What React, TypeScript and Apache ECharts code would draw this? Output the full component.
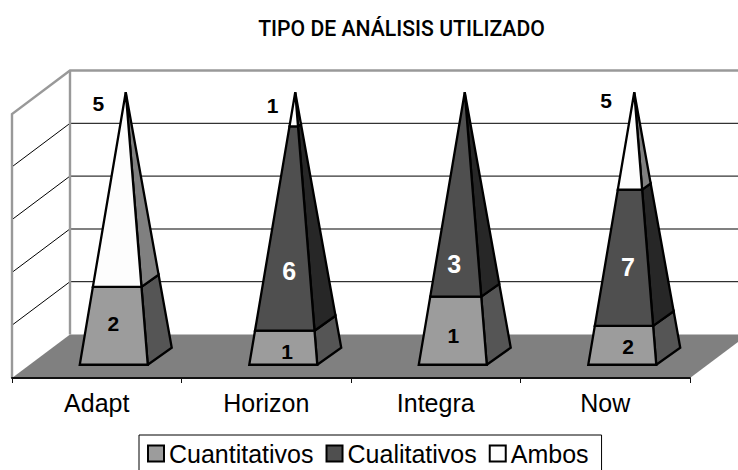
import React, { useEffect, useRef } from "react";
import * as echarts from "echarts";

const categories = ["Adapt", "Horizon", "Integra", "Now"];
const cuantitativos = [2, 1, 1, 2];
const cualitativos = [0, 6, 3, 7];
const ambos = [5, 1, 0, 5];
const gridTicks = [20, 40, 60, 80];
const titleText = "TIPO DE ANÁLISIS UTILIZADO";

const stacks = [cuantitativos, cualitativos, ambos];
const names = ["Cuantitativos", "Cualitativos", "Ambos"];
const frontColors = ["#9c9c9c", "#4f4f4f", "#fdfdfd"];
const sideColors = ["#555555", "#272727", "#808080"];
const labelColors = ["#000000", "#ffffff", "#000000"];
const labelSizes = [21, 25, 21];

// Pixel nudges of each label from the middle of its segment (per series, per category)
const labelNudges = [
  [[-2, -2], [3, 4], [-1, 5], [5, 1.5]],
  [[0, 0], [0, 42], [-6, 70], [1, 9]],
  [[-23, -86], [-22, -4], [0, 0], [-26, -40]],
];

const DEPTH_X = 58;
const DEPTH_Y = -43.5;
const FONT = '"Liberation Sans", Arial, sans-serif';

function App() {
  const ref = useRef<HTMLDivElement>(null);
  useEffect(() => {
    document.body.style.margin = "0";
    const chart = echarts.init(ref.current!, null, { renderer: "svg" });

    const wallSeries = {
      type: "custom",
      name: "walls",
      coordinateSystem: "cartesian2d",
      z: 2,
      silent: true,
      data: [[0, 0]],
      renderItem: (_p: any, api: any) => {
        const left = api.coord([0, 0])[0] - api.size([1, 0])[0] / 2;
        const right = left + api.size([1, 0])[0] * categories.length;
        const y0 = api.coord([0, 0])[1];
        const y100 = api.coord([0, 100])[1];
        const children: any[] = [];
        children.push({
          type: "polygon",
          shape: {
            points: [
              [left, y0],
              [left + DEPTH_X, y0 + DEPTH_Y],
              [right + DEPTH_X, y0 + DEPTH_Y],
              [right, y0],
            ],
          },
          style: { fill: "#808080" },
        });
        gridTicks.forEach((t) => {
          const y = api.coord([0, t])[1];
          children.push({
            type: "line",
            shape: { x1: left, y1: y, x2: left + DEPTH_X, y2: y + DEPTH_Y },
            style: { stroke: "#000", lineWidth: 1 },
          });
          children.push({
            type: "line",
            shape: { x1: left + DEPTH_X, y1: y + DEPTH_Y, x2: right + DEPTH_X, y2: y + DEPTH_Y },
            style: t === 40 ? { stroke: "#808080", lineWidth: 2 } : { stroke: "#000", lineWidth: 1 },
          });
        });
        children.push({
          type: "polyline",
          shape: {
            points: [
              [left, y0],
              [left, y100],
              [left + DEPTH_X, y100 + DEPTH_Y],
              [right + DEPTH_X, y100 + DEPTH_Y],
            ],
          },
          style: { fill: "none", stroke: "#999999", lineWidth: 2.4 },
        });
        children.push({
          type: "line",
          shape: { x1: left + DEPTH_X, y1: y0 + DEPTH_Y, x2: left + DEPTH_X, y2: y100 + DEPTH_Y },
          style: { stroke: "#999999", lineWidth: 2.4 },
        });
        return { type: "group", children };
      },
    };

    const segmentRenderer = (si: number) => (_p: any, api: any) => {
      const cat = api.value(0);
      const start = api.value(1);
      const end = api.value(2);
      const raw = api.value(3);
      if (raw === 0) return { type: "group", children: [] };
      const bandW = api.size([1, 0])[0];
      const c0 = api.coord([cat, 0]);
      const c100 = api.coord([cat, 100]);
      const bx = c0[0] + DEPTH_X / 2;
      const by = c0[1] + DEPTH_Y / 2;
      const ay = c100[1] + DEPTH_Y / 2;
      const k = bandW / 169.5;
      const FL = [bx - 46 * k, by + 8.5];
      const FR = [bx + 22 * k, by + 8.5];
      const BR = [bx + 46 * k, by - 8.5];
      const at = (p: number[], pct: number) => {
        const t = pct / 100;
        return [p[0] + (bx - p[0]) * t, p[1] + (ay - p[1]) * t];
      };
      const stroke = { stroke: "#000", lineWidth: 2.3, lineJoin: "miter", miterLimit: 2 };
      const midPct = (start + end) / 2;
      const fl = at(FL, midPct);
      const fr = at(FR, midPct);
      const nudge = labelNudges[si][cat];
      return {
        type: "group",
        children: [
          {
            type: "polygon",
            shape: { points: [at(FR, start), at(BR, start), at(BR, end), at(FR, end)] },
            style: { fill: sideColors[si], ...stroke },
          },
          {
            type: "polygon",
            shape: { points: [at(FL, start), at(FR, start), at(FR, end), at(FL, end)] },
            style: { fill: frontColors[si], ...stroke },
          },
          {
            type: "text",
            z2: 10,
            style: {
              text: String(raw),
              x: (fl[0] + fr[0]) / 2 + nudge[0],
              y: fl[1] + nudge[1],
              fill: labelColors[si],
              font: `bold ${labelSizes[si]}px ${FONT}`,
              align: "center",
              verticalAlign: "middle",
            },
          },
        ],
      };
    };

    const segmentSeries = stacks.map((values, si) => ({
      type: "custom",
      name: names[si],
      coordinateSystem: "cartesian2d",
      z: 4,
      itemStyle: { color: frontColors[si] },
      encode: { x: 0, y: [1, 2] },
      data: values.map((v, ci) => {
        const total = stacks.reduce((s, a) => s + a[ci], 0);
        const before = stacks.slice(0, si).reduce((s, a) => s + a[ci], 0);
        return [ci, (before / total) * 100, ((before + v) / total) * 100, v];
      }),
      renderItem: segmentRenderer(si),
    }));

    chart.setOption({
      animation: false,
      title: {
        text: titleText,
        left: 396.5,
        top: 13,
        textAlign: "center",
        textStyle: { fontFamily: "Roboto", fontWeight: 500, fontSize: 21.2, color: "#000" },
      },
      grid: { left: 12, width: 678, top: 114, height: 264, containLabel: false },
      xAxis: {
        type: "category",
        data: categories,
        z: 3,
        axisLine: { lineStyle: { color: "#111", width: 2 } },
        axisTick: { show: true, length: 5, lineStyle: { color: "#111", width: 1 } },
        axisLabel: { fontFamily: FONT, fontSize: 25, color: "#000", margin: 12 },
      },
      yAxis: { type: "value", min: 0, max: 100, interval: 20, show: false, splitLine: { show: false } },
      legend: {
        left: 139,
        top: 435,
        padding: [6, 13, 8, 8],
        itemGap: 12,
        itemWidth: 16,
        itemHeight: 16,
        borderColor: "#000",
        borderWidth: 1,
        selectedMode: false,
        textStyle: { fontFamily: FONT, fontSize: 25, color: "#000" },
        data: names.map((n, i) => ({
          name: n,
          icon: "rect",
          itemStyle: { color: frontColors[i], borderColor: "#000", borderWidth: 2 },
        })),
      },
      series: [wallSeries, ...segmentSeries],
    });
    return () => chart.dispose();
  }, []);
  return <div ref={ref} style={{ width: 738, height: 470 }} />;
}

export default App;
